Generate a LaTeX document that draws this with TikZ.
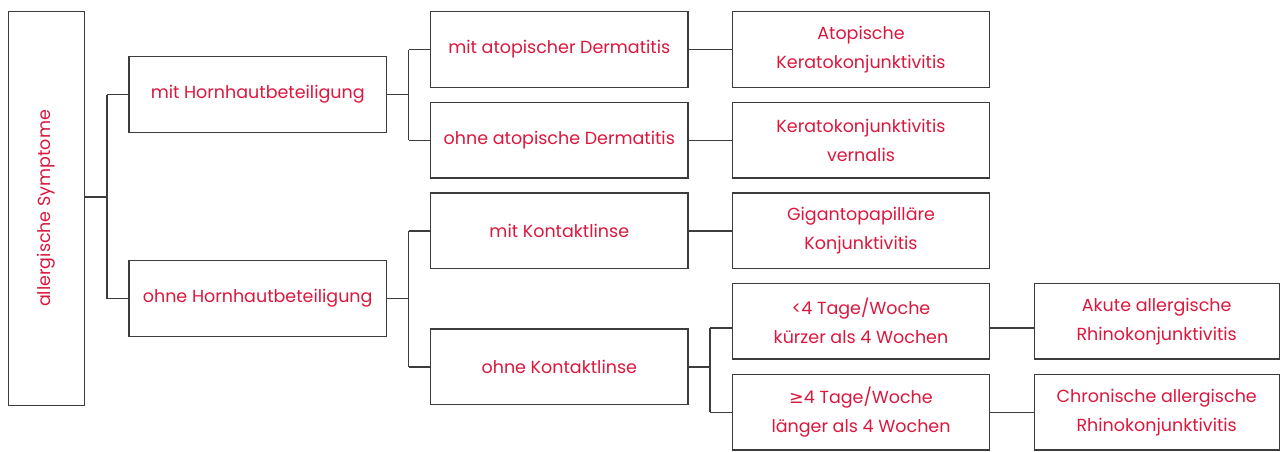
\documentclass[tikz,border=0pt]{standalone}
\usepackage{fontspec}
\setmainfont{Poppins}
\newfontfamily\symfont{DejaVu Sans}
\definecolor{txt}{RGB}{218,24,62}
\definecolor{ln}{RGB}{60,60,60}
\begin{document}
\begin{tikzpicture}[x=1pt,y=-1pt,
  box/.style={draw=ln, line width=1.4pt, minimum width=257.3pt, minimum height=75.6pt,
    inner sep=0pt, align=center, text=txt, font=\fontsize{17.5}{29}\selectfont},
  link/.style={draw=ln, line width=1.4pt}]
\useasboundingbox (0,0) rectangle (1280,451);

% root
\node[box, minimum width=76pt, minimum height=393.6pt] (root) at (46.3,208.5) {};
\node[text=txt, font=\fontsize{17.5}{29}\selectfont, rotate=90] (roottxt) at (root.center) {allergische Symptome};

% level 1
\node[box] (h1) at (257.7,94.5) {mit Hornhautbeteiligung};
\node[box] (h2) at (257.7,298.5) {ohne Hornhautbeteiligung};

% level 2
\node[box] (d1) at (559.3,49.5) {mit atopischer Dermatitis};
\node[box] (d2) at (559.3,140.2) {ohne atopische Dermatitis};
\node[box] (k1) at (559.3,230.8) {mit Kontaktlinse};
\node[box] (k2) at (559.3,366.8) {ohne Kontaktlinse};

% level 3
\node[box] (r1) at (861,49.5) {Atopische\\Keratokonjunktivitis};
\node[box] (r2) at (861,140.2) {Keratokonjunktivitis\\vernalis};
\node[box] (r3) at (861,230.8) {Gigantopapilläre\\Konjunktivitis};
\node[box] (r4) at (861,321.3) {<4 Tage/Woche\\kürzer als 4 Wochen};
\node[box] (r5) at (861,412.3) {{\symfont ≥}4 Tage/Woche\\länger als 4 Wochen};

% level 4
\node[box, minimum width=245pt] (s1) at (1156.7,321.3) {Akute allergische\\Rhinokonjunktivitis};
\node[box, minimum width=245pt] (s2) at (1156.7,412.3) {Chronische allergische\\Rhinokonjunktivitis};

% attachment points of the lower pair
\coordinate (r4w) at ([yshift=-6.7pt]r4.west);
\coordinate (r4e) at ([yshift=-6.7pt]r4.east);
\coordinate (s1w) at ([yshift=-6.7pt]s1.west);

% junction columns
\coordinate (j0) at (107,197);
\coordinate (j1) at (408.5,95.5);
\coordinate (j2) at (408.5,298.5);
\coordinate (j3) at (710,366.8);

% root -> level 1
\draw[link] (root.east |- j0) -- (j0);
\draw[link] (j0 |- h1.west) -- (j0 |- h2.west);
\draw[link] (j0 |- h1.west) -- (h1.west);
\draw[link] (j0 |- h2.west) -- (h2.west);

% level 1 -> level 2
\draw[link] (h1.east) -- (h1.east -| j1);
\draw[link] (j1 |- d1.west) -- (j1 |- d2.west);
\draw[link] (j1 |- d1.west) -- (d1.west);
\draw[link] (j1 |- d2.west) -- (d2.west);

\draw[link] (h2.east) -- (h2.east -| j2);
\draw[link] (j2 |- k1.west) -- (j2 |- k2.west);
\draw[link] (j2 |- k1.west) -- (k1.west);
\draw[link] (j2 |- k2.west) -- (k2.west);

% level 2 -> level 3
\draw[link] (d1.east) -- (r1.west);
\draw[link] (d2.east) -- (r2.west);
\draw[link] (k1.east) -- (r3.west);
\draw[link] (k2.east) -- (k2.east -| j3);
\draw[link] (j3 |- r4w) -- (j3 |- r5.west);
\draw[link] (j3 |- r4w) -- (r4w);
\draw[link] (j3 |- r5.west) -- (r5.west);

% level 3 -> level 4
\draw[link] (r4e) -- (s1w);
\draw[link] (r5.east) -- (s2.west);
\end{tikzpicture}
\end{document}
